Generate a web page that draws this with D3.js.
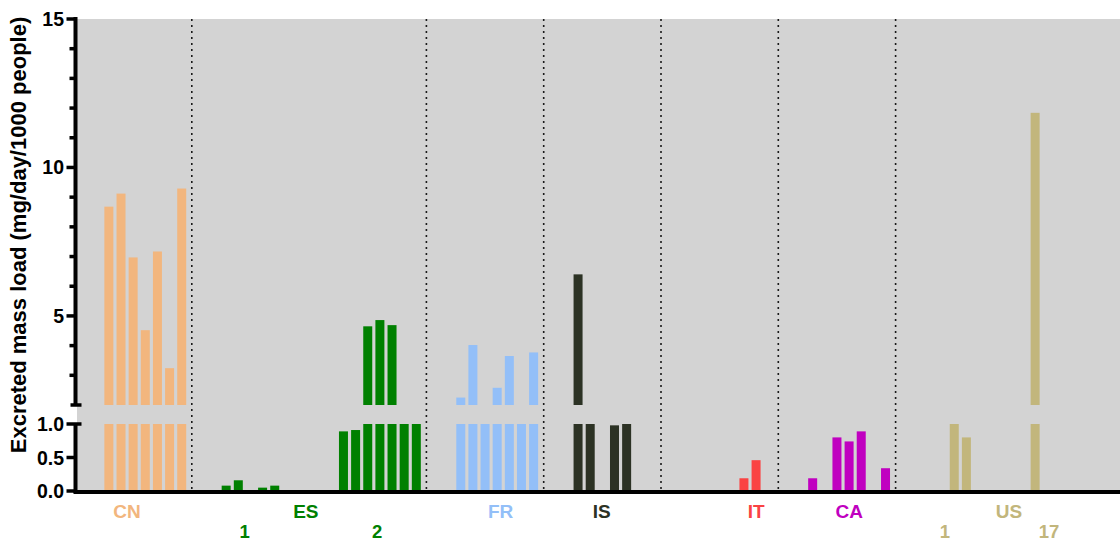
<!DOCTYPE html>
<html>
<head>
<meta charset="utf-8">
<script src="https://cdn.jsdelivr.net/npm/d3@7/dist/d3.min.js"></script>
<style>
  html, body { margin: 0; padding: 0; background: #fff; }
  svg { display: block; font-family: "Liberation Sans", Arial, sans-serif; font-weight: bold; }
</style>
</head>
<body>
<svg id="chart" width="1120" height="543"></svg>
<script>
// ---------------- DATA ----------------
const subgroups = ["CN", "ES1", "ES2", "FR", "IS", "IT", "CA", "US1", "US17"];
const subgroupCountry = ["CN", "ES", "ES", "FR", "IS", "IT", "CA", "US", "US"];
const subLabels = ["", "1", "2", "", "", "", "", "1", "17"];
const countries = ["CN", "ES", "FR", "IS", "IT", "CA", "US"];
const countryColors = ["#F2B67E", "#008000", "#93BFF8", "#2C3224", "#FA4343", "#C000C0", "#C2B67C"];

// values per sample slot (null = no sample)
const valuesCN   = [null, null, 8.68, 9.12, 6.97, 4.52, 7.17, 3.24, 9.29];
const valuesES1  = [null, null, 0.08, 0.16, null, 0.05, 0.08, null, null];
const valuesES2  = [null, null, 0.89, 0.91, 4.65, 4.86, 4.69, 1.5, 1.5];
const valuesFR   = [null, null, 2.25, 4.02, 1.5, 2.58, 3.65, 1.5, 3.77];
const valuesIS   = [null, null, 6.40, 1.5, null, 0.98, 1.5, null, null];
const valuesIT   = [null, null, null, null, null, null, 0.19, 0.46, null];
const valuesCA   = [null, null, 0.19, null, 0.80, 0.74, 0.89, null, 0.34];
const valuesUS1  = [null, null, null, null, 1.0, 0.80, null, null, null];
const valuesUS17 = [null, 11.84, null, null, null, null, null, null, null];
const allValues = [valuesCN, valuesES1, valuesES2, valuesFR, valuesIS, valuesIT, valuesCA, valuesUS1, valuesUS17];

const upperMajorTicks = [5, 10, 15];
const upperMinorTicks = [3, 4, 6, 7, 8, 9, 11, 12, 13, 14];
const lowerTicks = [0, 0.5, 1.0];
const yTitle = "Excreted mass load (mg/day/1000 people)";

// ---------------- LAYOUT ----------------
const SLOTS = 9.66;          // slot units per subgroup
const PAD = 0.33;            // inner padding of a subgroup (slot units)
const X0 = 74.5, SUBPX = 117.3;
const plotLeft = 77, plotTop = 19, W = 1120;
const BREAK_LO = 2, BREAK_HI = 1;

const x = d3.scaleLinear().domain([0, subgroups.length * SLOTS]).range([X0, X0 + subgroups.length * SUBPX]);
const barW = 9;
const yU = d3.scaleLinear().domain([BREAK_LO, 15]).range([405, plotTop]);
const yL = d3.scaleLinear().domain([0, BREAK_HI]).range([491, 424]);

// label anchor positions (slot units from subgroup start)
const countryLabelAt = { CN: [0, 4.32], ES: [1, 9.39], FR: [3, 6.11], IS: [4, 4.77], IT: [5, 7.84], CA: [6, 5.84], US: [7, 9.33] };
const subLabelAt = [null, 4.36, 5.6, null, null, null, null, 4.06, 2.97];

const svg = d3.select("#chart");
const color = d3.scaleOrdinal().domain(countries).range(countryColors);

// background
svg.append("rect").attr("x", plotLeft).attr("y", plotTop)
  .attr("width", W - plotLeft).attr("height", yL(0) - plotTop).attr("fill", "#D3D3D3");

// separators between countries
const sepIdx = [];
for (let j = 1; j < subgroups.length; j++) {
  if (subgroupCountry[j] !== subgroupCountry[j - 1]) sepIdx.push(j);
}
svg.append("g").selectAll("line").data(sepIdx).join("line")
  .attr("x1", d => x(d * SLOTS)).attr("x2", d => x(d * SLOTS))
  .attr("y1", plotTop).attr("y2", yL(0))
  .attr("stroke", "#1a1a1a").attr("stroke-width", 1.6).attr("stroke-dasharray", "2,4");

// bars
const bars = [];
allValues.forEach((arr, j) => {
  arr.forEach((v, k) => {
    if (v == null) return;
    bars.push({ j, k, v, c: subgroupCountry[j] });
  });
});
const cx = d => x(d.j * SLOTS + PAD + d.k + 0.5);
const gBars = svg.append("g");
gBars.selectAll("rect.lo").data(bars).join("rect").attr("class", "lo")
  .attr("x", d => cx(d) - barW / 2).attr("width", barW)
  .attr("y", d => yL(Math.min(d.v, BREAK_HI)))
  .attr("height", d => yL(0) - yL(Math.min(d.v, BREAK_HI)))
  .attr("fill", d => color(d.c));
gBars.selectAll("rect.hi").data(bars.filter(d => d.v > BREAK_LO)).join("rect").attr("class", "hi")
  .attr("x", d => cx(d) - barW / 2).attr("width", barW)
  .attr("y", d => yU(d.v))
  .attr("height", d => yU(BREAK_LO) - yU(d.v))
  .attr("fill", d => color(d.c));

// x axis line
svg.append("line").attr("x1", 73.5).attr("x2", W).attr("y1", yL(0) + 1).attr("y2", yL(0) + 1)
  .attr("stroke", "#000").attr("stroke-width", 4);

// y axis (broken)
const ax = 75.5;
const gy = svg.append("g").attr("stroke", "#000");
gy.append("line").attr("x1", ax).attr("x2", ax).attr("y1", yU(15) - 2).attr("y2", yU(BREAK_LO) + 1).attr("stroke-width", 4);
gy.append("line").attr("x1", ax).attr("x2", ax).attr("y1", yL(BREAK_HI) - 1).attr("y2", yL(0) + 2).attr("stroke-width", 4);
gy.selectAll("line.maj").data(upperMajorTicks).join("line").attr("class", "maj")
  .attr("x1", ax - 9).attr("x2", ax).attr("y1", d => yU(d)).attr("y2", d => yU(d)).attr("stroke-width", 3.5);
gy.selectAll("line.min").data(upperMinorTicks).join("line").attr("class", "min")
  .attr("x1", ax - 6).attr("x2", ax).attr("y1", d => yU(d)).attr("y2", d => yU(d)).attr("stroke-width", 3.5);
gy.selectAll("line.low").data(lowerTicks.filter(d => d < BREAK_HI)).join("line").attr("class", "low")
  .attr("x1", ax - 9).attr("x2", ax).attr("y1", d => yL(d)).attr("y2", d => yL(d)).attr("stroke-width", 3.5);
// break marks
gy.append("line").attr("x1", ax - 5).attr("x2", ax + 6).attr("y1", yU(BREAK_LO)).attr("y2", yU(BREAK_LO)).attr("stroke-width", 3.5);
gy.append("line").attr("x1", ax - 9).attr("x2", ax + 6).attr("y1", yL(BREAK_HI)).attr("y2", yL(BREAK_HI)).attr("stroke-width", 3.5);

// y tick labels
const gl = svg.append("g").attr("font-size", 19.5).attr("text-anchor", "end").attr("fill", "#000");
gl.selectAll("text.u").data(upperMajorTicks).join("text").attr("class", "u")
  .attr("x", 64).attr("y", d => yU(d)).attr("dy", "0.36em").text(d => d);
gl.selectAll("text.l").data(lowerTicks).join("text").attr("class", "l")
  .attr("x", 64).attr("y", d => yL(d)).attr("dy", "0.36em").text(d => d3.format(".1f")(d));

// y title
svg.append("text").attr("transform", "translate(26,235) rotate(-90)")
  .attr("text-anchor", "middle").attr("font-size", 22).attr("fill", "#000").text(yTitle);

// country labels
svg.append("g").selectAll("text").data(countries).join("text")
  .attr("x", d => x(countryLabelAt[d][0] * SLOTS + countryLabelAt[d][1]))
  .attr("y", 518).attr("text-anchor", "middle").attr("font-size", 19)
  .attr("fill", d => color(d)).text(d => d);

// sub labels
svg.append("g").selectAll("text").data(subgroups.map((s, j) => ({ j, t: subLabels[j], at: subLabelAt[j] })).filter(d => d.t))
  .join("text")
  .attr("x", d => x(d.j * SLOTS + d.at))
  .attr("y", 538).attr("text-anchor", "middle").attr("font-size", 18.5)
  .attr("fill", d => color(subgroupCountry[d.j])).text(d => d.t);
</script>
</body>
</html>
